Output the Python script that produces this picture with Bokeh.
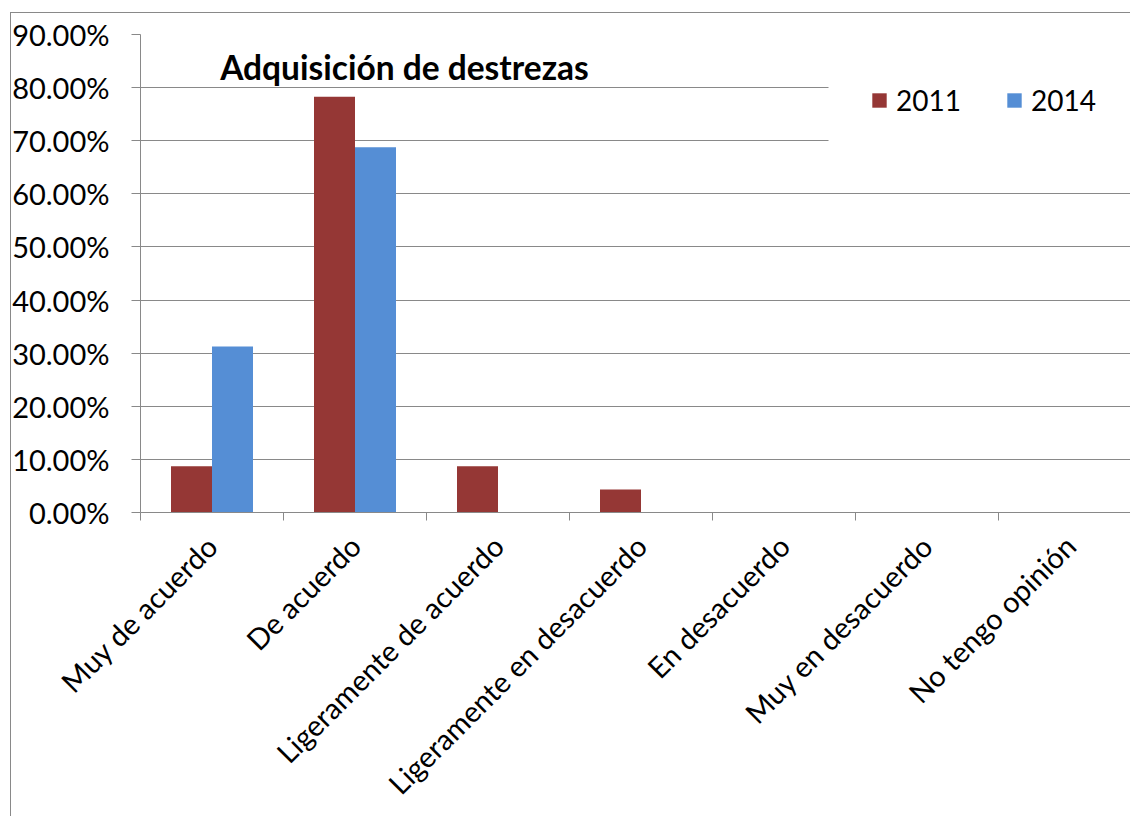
import math
from bokeh.plotting import figure
from bokeh.models import (Range1d, FixedTicker, NumeralTickFormatter, Legend, LegendItem,
                          Label, BoxAnnotation)
from bokeh.embed import file_html
from bokeh.resources import INLINE

title_text = "Adquisición de destrezas"
categories = ["Muy de acuerdo", "De acuerdo", "Ligeramente de acuerdo",
              "Ligeramente en desacuerdo", "En desacuerdo", "Muy en desacuerdo",
              "No tengo opinión"]
series_names = ["2011", "2014"]
pct_2011 = [0.0870, 0.7826, 0.0870, 0.0435, 0.0, 0.0, 0.0]
pct_2014 = [0.3125, 0.6875, 0.0, 0.0, 0.0, 0.0, 0.0]
y_ticks = [0.0, 0.1, 0.2, 0.3, 0.4, 0.5, 0.6, 0.7, 0.8, 0.9]

C2011 = "#953735"
C2014 = "#558ED5"
GRAY = "#898989"
FONT = "Lato"

W, H = 1130, 816
p = figure(width=W, height=H, output_backend="svg", toolbar_location=None,
           x_range=Range1d(0, 990 / 143), y_range=Range1d(0, 0.9),
           min_border_left=140, min_border_right=0, min_border_top=34,
           min_border_bottom=304)
p.outline_line_color = None
p.background_fill_color = "white"
p.border_fill_color = "white"
p.border_fill_alpha = 0.0
p.styles = {
    "background": ("linear-gradient(#898989,#898989) 10px 12px / 1px 100% no-repeat, "
                   "linear-gradient(#898989,#898989) 10px 12px / 100% 1px no-repeat, white"),
}

centers = [i + 0.5 for i in range(len(categories))]
bw = 41 / 143
x11 = [c - bw / 2 for c in centers]
x14 = [c + bw / 2 for c in centers]
r1 = p.vbar(x=x11, top=pct_2011, width=bw, fill_color=C2011, line_color=None)
r2 = p.vbar(x=x14, top=pct_2014, width=bw, fill_color=C2014, line_color=None)

# axes
p.xgrid.visible = False
p.ygrid.ticker = FixedTicker(ticks=y_ticks)
p.ygrid.grid_line_color = GRAY
p.ygrid.grid_line_width = 1

ya = p.yaxis[0]
ya.ticker = FixedTicker(ticks=y_ticks)
ya.formatter = NumeralTickFormatter(format="0.00%")
ya.axis_line_color = GRAY
ya.major_tick_line_color = GRAY
ya.major_tick_out = 9
ya.major_tick_in = 0
ya.minor_tick_line_color = None
ya.major_label_standoff = 22
ya.major_label_text_font = FONT
ya.major_label_text_font_size = "29px"
ya.major_label_text_color = "black"

xa = p.xaxis[0]
xa.ticker = FixedTicker(ticks=centers, minor_ticks=list(range(len(categories) + 1)))
xa.major_label_overrides = {c: n for c, n in zip(centers, categories)}
xa.axis_line_color = GRAY
xa.major_tick_line_color = None
xa.major_tick_out = 0
xa.major_tick_in = 0
xa.minor_tick_line_color = GRAY
xa.minor_tick_out = 8
xa.minor_tick_in = 0
xa.major_label_orientation = math.pi / 4
xa.major_label_standoff = 20
xa.major_label_text_font = FONT
xa.major_label_text_font_size = "29px"
xa.major_label_text_color = "black"

# white panel behind the legend (covers gridlines like the reference)
p.add_layout(BoxAnnotation(left=(828 - 140) / 143, right=8, top=0.87, bottom=0.653,
                           fill_color="white", fill_alpha=1.0, line_color=None))

# title inside plot
p.add_layout(Label(x=(404 - 140) / 143, y=(512 - 66) * 0.9 / 478, text=title_text,
                   text_align="center", text_baseline="alphabetic", text_font=FONT,
                   text_font_style="bold", text_font_size="33.5px", text_color="black"))

legend = Legend(items=[LegendItem(label=series_names[0], renderers=[r1]),
                       LegendItem(label=series_names[1], renderers=[r2])],
                orientation="horizontal", location=(730, 395),
                glyph_width=18, glyph_height=18, label_standoff=8, spacing=44,
                padding=0, margin=0, border_line_color=None,
                background_fill_alpha=0.0,
                label_text_font=FONT, label_text_font_size="28px",
                label_text_color="black")
p.add_layout(legend, "center")

open("out.html", "w").write(file_html(p, INLINE))
